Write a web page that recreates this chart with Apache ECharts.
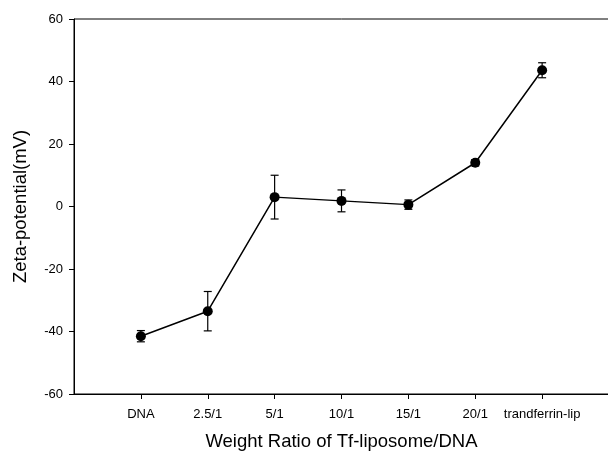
<!DOCTYPE html>
<html>
<head>
<meta charset="utf-8">
<script src="https://cdn.jsdelivr.net/npm/echarts@6/dist/echarts.min.js"></script>
<style>
  html, body { margin: 0; padding: 0; background: #fff; }
  #chart { width: 608px; height: 451px; }
</style>
</head>
<body>
<div id="chart"></div>
<script>
// data
const categories = ['DNA', '2.5/1', '5/1', '10/1', '15/1', '20/1', 'trandferrin-lip']
const zeta = [-41.5, -33.5, 3.0, 1.8, 0.6, 14.0, 43.6]
const zetaErr = [1.8, 6.3, 7.0, 3.5, 1.5, 1.0, 2.4]
const yTicks = [-60, -40, -20, 0, 20, 40, 60]

const positions = categories.map((c, i) => i + 1)
const points = zeta.map((v, i) => [positions[i], v])
const errData = zeta.map((v, i) => [positions[i], v - zetaErr[i], v + zetaErr[i]])

const chart = echarts.init(document.getElementById('chart'))

const font = 'Arial, "Liberation Sans", sans-serif'

chart.setOption({
  animation: false,
  backgroundColor: '#fff',
  grid: {
    left: 74,
    top: 19,
    right: -1,
    bottom: 57,
    outerBoundsMode: 'none',
    containLabel: false,
    show: true,
    borderColor: '#000',
    borderWidth: 1,
    backgroundColor: 'transparent',
  },
  xAxis: {
    type: 'value',
    min: 0,
    max: 8,
    interval: 1,
    name: 'Weight Ratio of Tf-liposome/DNA',
    nameLocation: 'middle',
    nameGap: 38,
    nameTextStyle: { fontFamily: font, fontSize: 18.5, color: '#000' },
    splitLine: { show: false },
    axisLine: { onZero: false, lineStyle: { color: '#000', width: 1 } },
    axisTick: {
      customValues: positions,
      length: 5,
      inside: false,
      lineStyle: { color: '#000' },
    },
    axisLabel: {
      customValues: positions,
      formatter: v => categories[v - 1] || '',
      fontFamily: font,
      fontSize: 13,
      color: '#000',
      margin: 14,
    },
  },
  yAxis: {
    type: 'value',
    min: -60,
    max: 60,
    interval: 20,
    name: 'Zeta-potential(mV)',
    nameLocation: 'middle',
    nameGap: 44,
    nameTextStyle: { fontFamily: font, fontSize: 18.5, color: '#000' },
    splitLine: { show: false },
    axisLine: { onZero: false, lineStyle: { color: '#000', width: 1 } },
    axisTick: {
      customValues: yTicks,
      length: 5,
      lineStyle: { color: '#000' },
    },
    axisLabel: {
      fontFamily: font,
      fontSize: 13,
      color: '#000',
      margin: 11,
    },
  },
  series: [
    {
      type: 'custom',
      data: errData,
      z: 3,
      renderItem: (params, api) => {
        const x = api.value(0)
        const lo = api.coord([x, api.value(1)])
        const hi = api.coord([x, api.value(2)])
        const hw = 4
        const style = { stroke: '#000', lineWidth: 1.2 }
        return {
          type: 'group',
          children: [
            { type: 'line', shape: { x1: lo[0], y1: lo[1], x2: hi[0], y2: hi[1] }, style },
            { type: 'line', shape: { x1: lo[0] - hw, y1: lo[1], x2: lo[0] + hw, y2: lo[1] }, style },
            { type: 'line', shape: { x1: hi[0] - hw, y1: hi[1], x2: hi[0] + hw, y2: hi[1] }, style },
          ],
        }
      },
    },
    {
      type: 'line',
      data: points,
      z: 4,
      symbol: 'circle',
      symbolSize: 10,
      lineStyle: { color: '#000', width: 1.5 },
      itemStyle: { color: '#000' },
    },
  ],
})
</script>
</body>
</html>
